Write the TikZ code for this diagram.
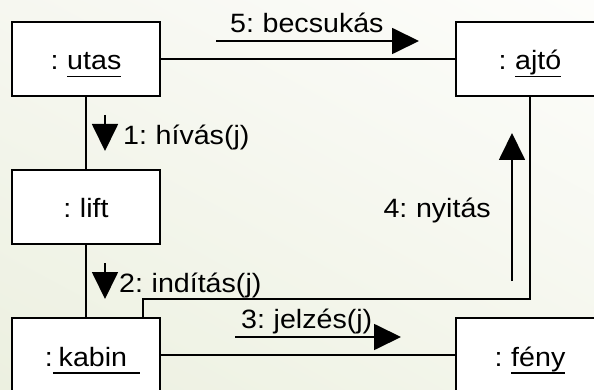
\documentclass[tikz,border=0pt]{standalone}
\usepackage{fontspec}
\setmainfont{Liberation Sans}[FakeStretch=1.08,WordSpace=0.75]
\usetikzlibrary{arrows.meta,calc,shadings}
\definecolor{bgUL}{RGB}{246,247,240}
\definecolor{bgUR}{RGB}{253,253,251}
\definecolor{bgLL}{RGB}{236,240,224}
\definecolor{bgLR}{RGB}{244,246,236}
\newcommand\myul[1]{\setbox0\hbox{#1}\rlap{\rule[-7.5pt]{\wd0}{1.5pt}}\box0}
\tikzset{
  obj/.style={draw, line width=1.8pt, fill=white, minimum width=148pt, minimum height=74pt,
    inner sep=0pt, text height=24pt, text depth=2pt},
  conn/.style={line width=1.8pt},
  msg/.style={line width=1.8pt, -{Triangle[length=27pt,width=26pt]}},
  lbl/.style={inner sep=0pt}
}
\begin{document}
\begin{tikzpicture}[x=1pt,y=-1pt,font=\fontsize{26.5}{31}\selectfont]
\useasboundingbox (0,0) rectangle (594,390);
\clip (0,0) rectangle (594,390);
\shade[upper left=bgUL, upper right=bgUR, lower left=bgLL, lower right=bgLR]
  (0,0) rectangle (594,390);
% objects
\node[obj] (utas) at (86,59) {: \myul{utas}};
\node[obj] (ajto) at (530,59) {: \myul{ajtó}};
\node[obj] (lift) at (86,207) {: lift};
\node[obj] (kabin) at (86,355) {:\myul{ kabin}\rlap{\rule[-7.5pt]{13pt}{1.5pt}}};
\node[obj] (feny) at (530,355) {: \myul{fény}};
% links
\draw[conn] (utas.east) -- (ajto.west);
\draw[conn] (utas.south) -- (lift.north);
\draw[conn] (lift.south) -- (kabin.north);
\draw[conn] (kabin.east) -- (feny.west);
\draw[conn] ([xshift=-18pt]kabin.north east) -- ++(0,-18) -| (ajto.south);
% messages
\coordinate (m1s) at (105,115); \coordinate (m1e) at (105,151);
\coordinate (m2s) at (105,263); \coordinate (m2e) at (105,299);
\coordinate (m3s) at (235,337); \coordinate (m3e) at (401,337);
\coordinate (m4s) at (512,281); \coordinate (m4e) at (512,133);
\coordinate (m5s) at (216,41);  \coordinate (m5e) at (419,41);
\draw[msg] (m1s) -- (m1e);
\draw[msg] (m2s) -- (m2e);
\draw[msg] (m3s) -- (m3e);
\draw[msg] (m4s) -- (m4e);
\draw[msg] (m5s) -- (m5e);
\node[lbl, anchor=base west] (l1) at (123,145) {1: hívás(j)};
\node[lbl, anchor=base west] (l2) at (119,292) {2: indítás(j)};
\node[lbl, anchor=base west] (l3) at (241,328) {3: jelzés(j)};
\node[lbl, anchor=base east] (l4) at (491,217) {4: nyitás};
\node[lbl, anchor=base west] (l5) at (230,33) {5: becsukás};
\end{tikzpicture}
\end{document}
